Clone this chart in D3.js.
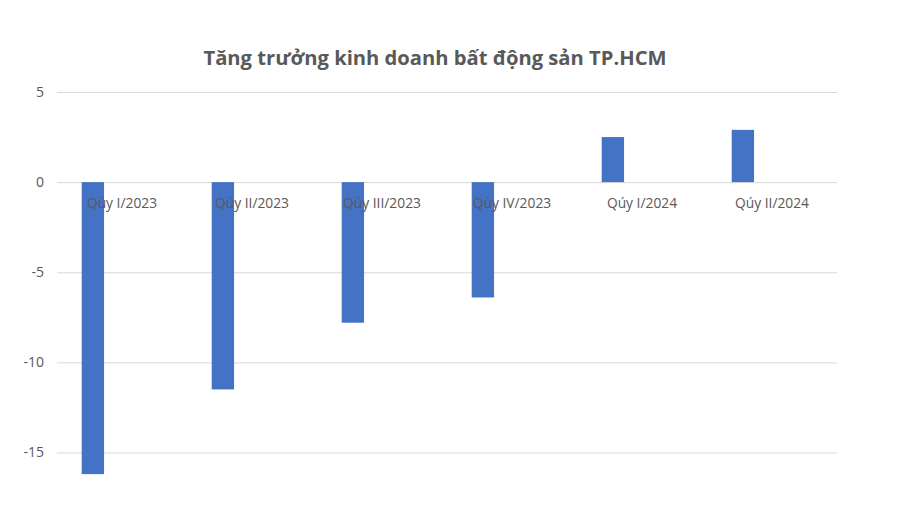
<!DOCTYPE html>
<html>
<head>
<meta charset="utf-8">
<script src="https://cdn.jsdelivr.net/npm/d3@7"></script>
<style>
  body { margin: 0; background: #fff; }
  text { font-family: "Open Sans", "Noto Sans", sans-serif; }
</style>
</head>
<body>
<div id="chart"></div>
<script>
var categories = ["Qúy I/2023", "Qúy II/2023", "Qúy III/2023", "Qúy IV/2023", "Qúy I/2024", "Qúy II/2024"];
var values = [-16.2, -11.5, -7.8, -6.4, 2.5, 2.9];
var yTicks = [5, 0, -5, -10, -15];
var title = "Tăng trưởng kinh doanh bất động sản TP.HCM";

var canvasWidth = 900;
var canvasHeight = 522;

var svg = d3.select("#chart")
    .append("svg")
    .attr("width", canvasWidth)
    .attr("height", canvasHeight);

/*plot area*/
var plotLeft = 57, plotRight = 837, plotTop = 92, plotBottom = 452.5;

var xScale = d3.scaleBand().domain(categories).range([plotLeft, plotRight]).padding(0);
var yScale = d3.scaleLinear().domain([5, -15]).range([plotTop, plotBottom]);

svg.append("text")
    .attr("x", 435)
    .attr("y", 65)
    .attr("text-anchor", "middle")
    .attr("font-size", "20.2px")
    .attr("font-weight", "bold")
    .attr("fill", "#595959")
    .text(title);

/*gridlines + y labels (plain hyphen like the original)*/
var yAxis = svg.append("g")
    .attr("transform", "translate(" + plotLeft + ",0)")
    .call(d3.axisLeft(yScale)
        .tickValues(yTicks)
        .tickFormat(function(d){ return String(d); })
        .tickSize(-(plotRight - plotLeft))
        .tickPadding(13));
yAxis.select(".domain").remove();
yAxis.selectAll(".tick line").attr("stroke", "#d9d9d9");
yAxis.selectAll(".tick text")
    .attr("fill", "#595959")
    .attr("font-size", "14px")
    .style("font-family", "'Open Sans', sans-serif");

/*bars*/
svg.append("g")
    .selectAll("rect")
    .data(values)
    .join("rect")
    .attr("x", function(d, i){ return xScale(categories[i]) + xScale.bandwidth() * 0.19; })
    .attr("width", xScale.bandwidth() * 0.172)
    .attr("y", function(d){ return yScale(Math.max(0, d)); })
    .attr("height", function(d){ return Math.abs(yScale(d) - yScale(0)); })
    .attr("fill", "#4472c4");

/*category labels just under zero line*/
svg.append("g")
    .selectAll("text")
    .data(categories)
    .join("text")
    .attr("x", function(d){ return xScale(d) + xScale.bandwidth() / 2; })
    .attr("y", yScale(0) + 26)
    .attr("text-anchor", "middle")
    .attr("font-size", "13.8px")
    .attr("fill", "#595959")
    .text(function(d){ return d; });
</script>
</body>
</html>
